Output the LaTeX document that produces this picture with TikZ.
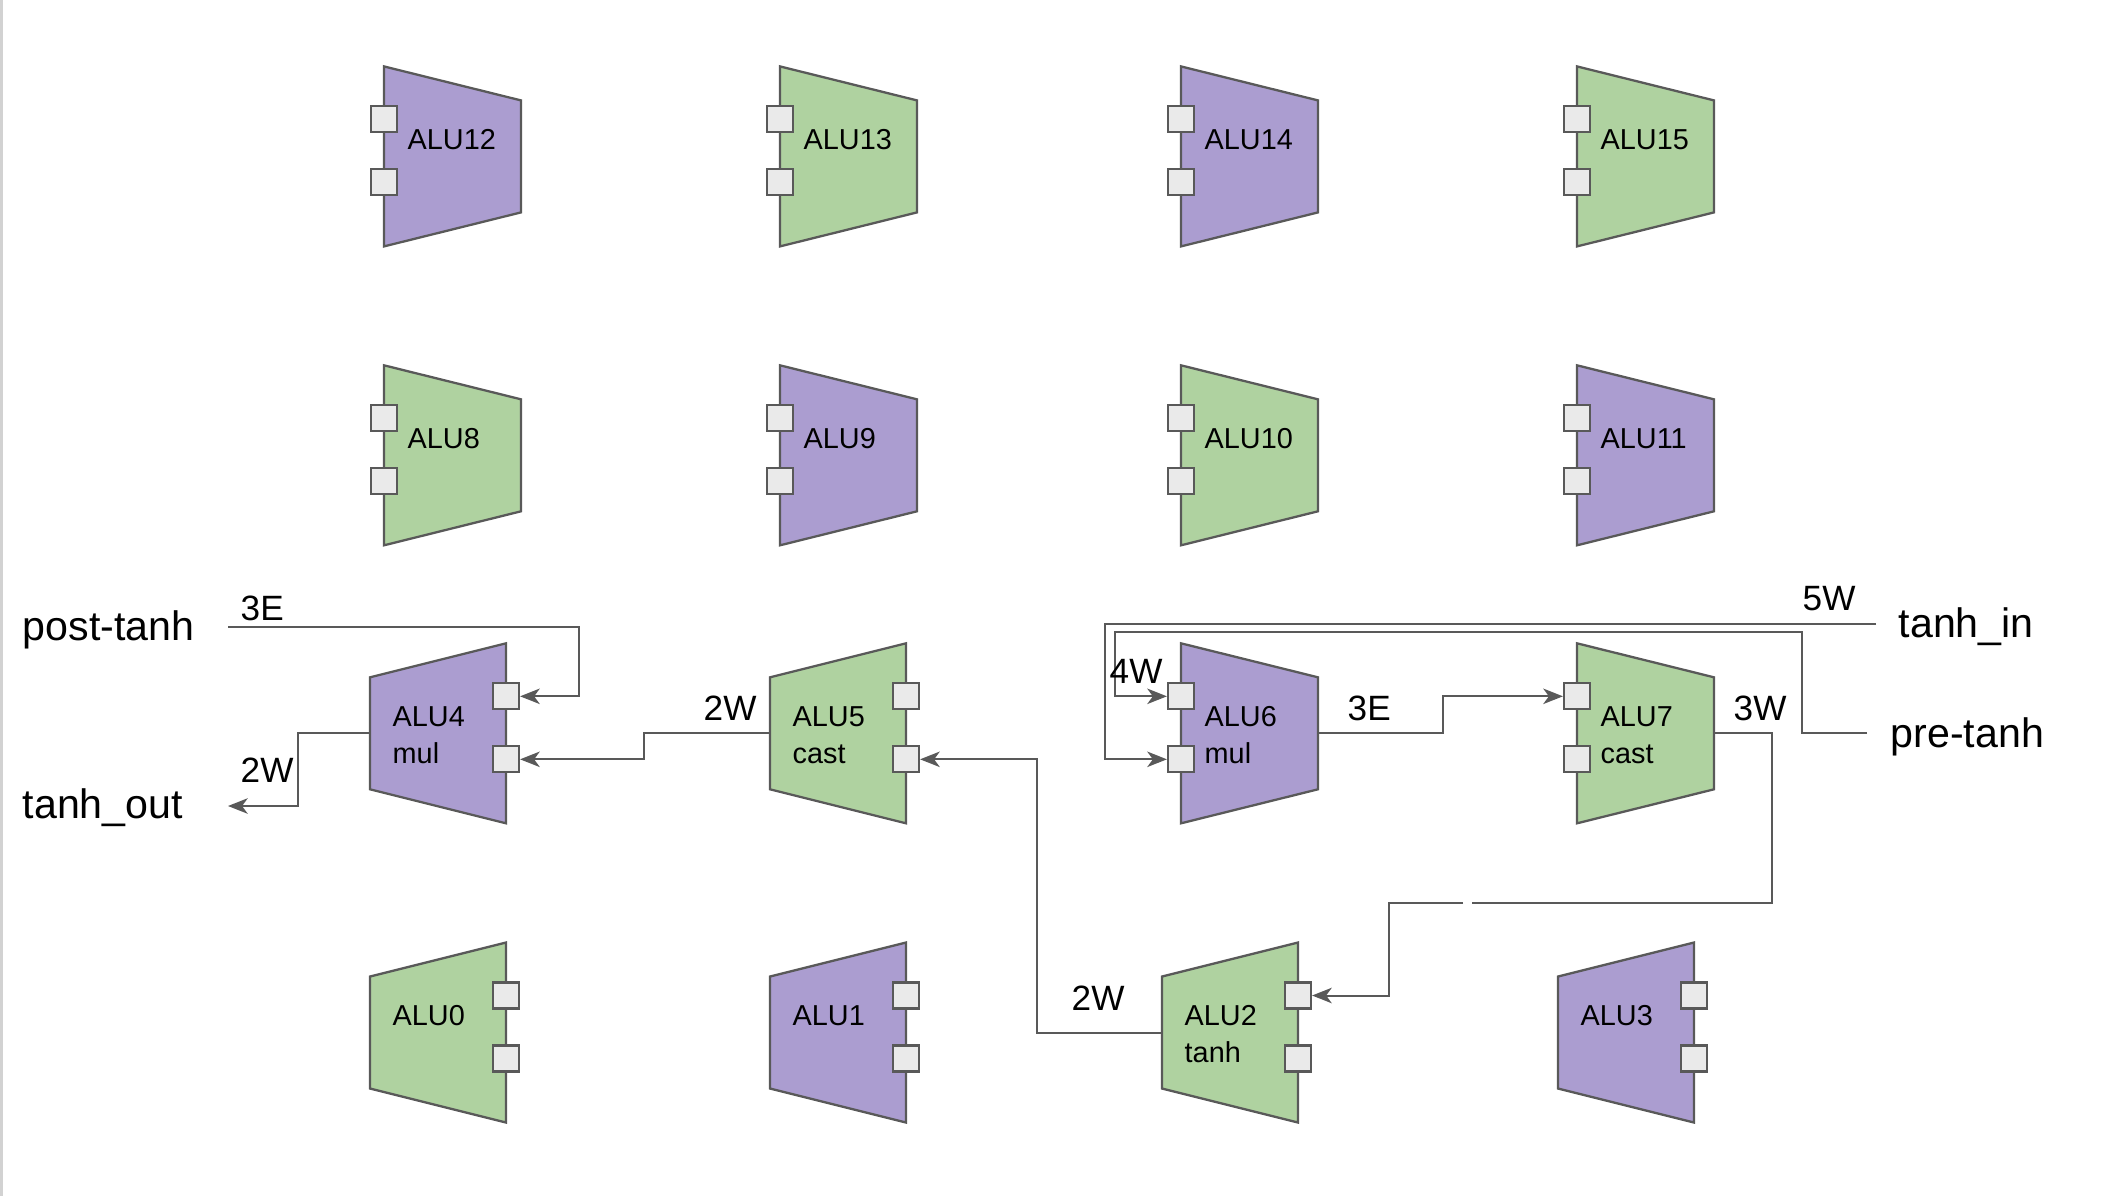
\documentclass[tikz,border=0pt]{standalone}
\usepackage{fontspec}
\setmainfont{Liberation Sans}
\usepackage{tikz}
\usetikzlibrary{arrows.meta,calc}

\definecolor{alupurple}{RGB}{171,157,208}
\definecolor{alugreen}{RGB}{175,210,160}
\definecolor{portgray}{RGB}{234,234,234}
\definecolor{linegray}{RGB}{89,89,89}

\tikzset{
  wire/.style={draw=linegray, line width=0.57pt},
  arr/.style={wire, -{Stealth[length=5.6pt,width=4.4pt,inset=1.6pt]}},
  port/.style={draw=linegray, fill=portgray, line width=0.6pt, minimum size=0.26cm, inner sep=0pt},
  alulab/.style={anchor=base west, inner sep=0pt, font=\fontsize{8.2}{10}\selectfont},
  sig/.style={anchor=base west, inner sep=0pt, font=\fontsize{10}{12}\selectfont},
  bigsig/.style={anchor=base west, inner sep=0pt, font=\fontsize{11.7}{14}\selectfont},
  % ports on the left, tall side left
  pics/alul/.style n args={3}{code={
    \draw[draw=linegray, fill=#1, line width=0.65pt] (-68.5,-90) -- (68.5,-56) -- (68.5,56) -- (-68.5,90) -- cycle;
    \node[port] (-p1) at (-68.5,-37) {};
    \node[port] (-p2) at (-68.5,26) {};
    \coordinate (-out) at (68.5,0);
    \node[alulab] (-name) at (-45.5,-6.6) {#2};
    \node[alulab] (-op) at (-45.5,30) {#3};
  }},
  % ports on the right, tall side right
  pics/alur/.style n args={3}{code={
    \draw[draw=linegray, fill=#1, line width=0.65pt] (-68,-56) -- (68,-90) -- (68,90) -- (-68,56) -- cycle;
    \node[port] (-p1) at (68,-37) {};
    \node[port] (-p2) at (68,26) {};
    \coordinate (-out) at (-68,0);
    \node[alulab] (-name) at (-46,-6.6) {#2};
    \node[alulab] (-op) at (-46,30) {#3};
  }}
}

\begin{document}
\begin{tikzpicture}[x=0.01cm,y=-0.01cm]
\useasboundingbox (0,0) rectangle (2126,1196);
\draw[gray!35, line width=0.03cm] (1.5,0) -- (1.5,1196);

% top two rows
\pic (a12) at (452.5,156.4) {alul={alupurple}{ALU12}{}};
\pic (a13) at (848.5,156.4) {alul={alugreen}{ALU13}{}};
\pic (a14) at (1249.5,156.4) {alul={alupurple}{ALU14}{}};
\pic (a15) at (1645.5,156.4) {alul={alugreen}{ALU15}{}};
\pic (a8) at (452.5,455.3) {alul={alugreen}{ALU8}{}};
\pic (a9) at (848.5,455.3) {alul={alupurple}{ALU9}{}};
\pic (a10) at (1249.5,455.3) {alul={alugreen}{ALU10}{}};
\pic (a11) at (1645.5,455.3) {alul={alupurple}{ALU11}{}};

% third row
\pic (a4) at (438,733.3) {alur={alupurple}{ALU4}{mul}};
\pic (a5) at (838,733.3) {alur={alugreen}{ALU5}{cast}};
\pic (a6) at (1249.5,733.3) {alul={alupurple}{ALU6}{mul}};
\pic (a7) at (1645.5,733.3) {alul={alugreen}{ALU7}{cast}};

% bottom row
\pic (a0) at (438,1032.5) {alur={alugreen}{ALU0}{}};
\pic (a1) at (838,1032.5) {alur={alupurple}{ALU1}{}};
\pic (a2) at (1230,1032.5) {alur={alugreen}{ALU2}{tanh}};
\pic (a3) at (1626,1032.5) {alur={alupurple}{ALU3}{}};

% signal names
\node[bigsig] (post) at (22,640) {post-tanh};
\node[bigsig] (tout) at (22,818) {tanh\_out};
\node[bigsig] (tin) at (1898,637) {tanh\_in};
\node[bigsig] (pre) at (1890,747) {pre-tanh};
\coordinate (c-post) at (228,627);
\coordinate (c-out) at (228,806);
\coordinate (c-tin) at (1876,624);
\coordinate (c-pre) at (1867,733);
\coordinate (c-gapa) at (1472,903);
\coordinate (c-gapb) at (1463,903);

% wires
\draw[arr] (c-post) -- (579,627) |- (a4-p1.east);
\draw[arr] (a5-out) -- (644,733.3) |- (a4-p2.east);
\draw[arr] (a4-out) -- (298,733.3) |- (c-out);
\draw[arr] (c-tin) -- (1105,624) |- (a6-p2.west);
\draw[arr] (c-pre) -- (1802,733) -- (1802,632) -- (1115,632) |- (a6-p1.west);
\draw[arr] (a6-out) -- (1443,733.3) |- (a7-p1.west);
\draw[wire] (a7-out) -- (1772,733.3) |- (c-gapa);
\draw[arr] (c-gapb) -- (1389,903) |- (a2-p1.east);
\draw[arr] (a2-out) -- (1037,1032.5) |- (a5-p2.east);

% widths
\node[sig] (w1) at (240,620) {3E};
\node[sig] (w2) at (240,782) {2W};
\node[sig] (w3) at (703,720) {2W};
\node[sig] (w4) at (1109,683) {4W};
\node[sig] (w5) at (1347,720) {3E};
\node[sig] (w6) at (1733,720) {3W};
\node[sig] (w7) at (1802,610) {5W};
\node[sig] (w8) at (1071,1010) {2W};
\end{tikzpicture}
\end{document}
